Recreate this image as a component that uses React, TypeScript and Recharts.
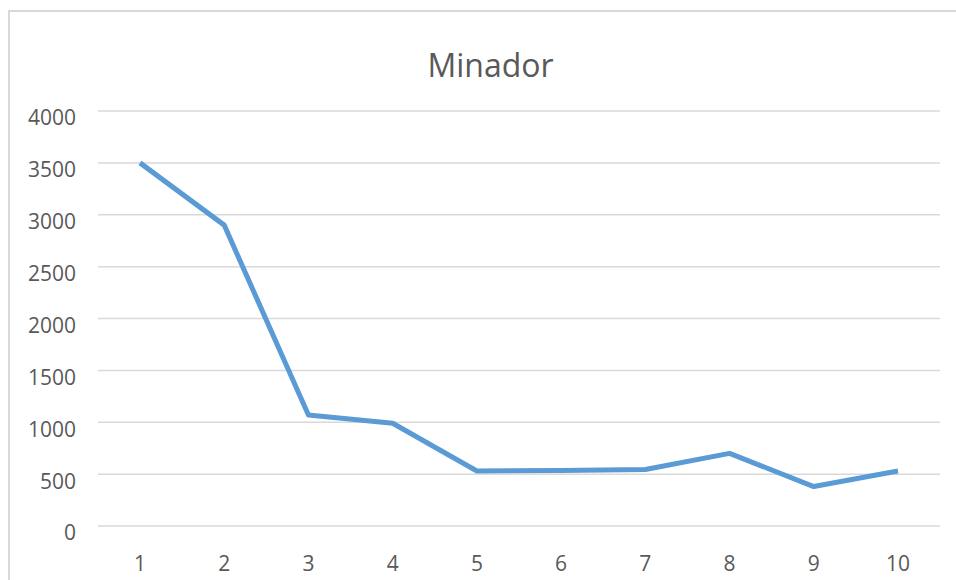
import { LineChart, Line, XAxis, YAxis, CartesianGrid } from 'recharts'

const categories = ['1', '2', '3', '4', '5', '6', '7', '8', '9', '10']
const minadorValues = [3500, 2900, 1070, 990, 530, 535, 545, 700, 380, 530]
const yTicks = [0, 500, 1000, 1500, 2000, 2500, 3000, 3500, 4000]

const data = categories.map((label, i) => ({ label, value: minadorValues[i] }))

const tickStyle = { fill: '#595959', fontSize: 21, fontFamily: '"Open Sans", sans-serif' }

// Excel puts the value labels a little below their gridline
const YTick = ({ x, y, payload }: any) => (
  <text x={x} y={y + 7} dy="0.355em" textAnchor="end" {...tickStyle}>
    {payload.value}
  </text>
)

export default function App() {
  return (
    <div
      style={{
        position: 'absolute',
        left: 0,
        top: 0,
        width: 956,
        height: 580,
        overflow: 'hidden',
        background: '#fff',
      }}
    >
      {/* chart frame, cut off at the right and bottom edges */}
      <div
        style={{
          position: 'absolute',
          left: 8,
          top: 10,
          width: 980,
          height: 620,
          border: '2px solid #D9D9D9',
        }}
      />
      <div
        style={{
          position: 'absolute',
          left: 0,
          width: 981,
          top: 43,
          textAlign: 'center',
          fontFamily: '"Open Sans", sans-serif',
          fontSize: 32,
          color: '#595959',
        }}
      >
        Minador
      </div>
      <div style={{ position: 'absolute', left: 0, top: 0 }}>
        <LineChart
          width={956}
          height={580}
          data={data}
          margin={{ top: 111, right: 16, bottom: 14, left: 10 }}
        >
          <CartesianGrid vertical={false} stroke="#D9D9D9" strokeWidth={1.5} />
          <XAxis
            dataKey="label"
            axisLine={false}
            tickLine={false}
            tickSize={0}
            tickMargin={30}
            height={40}
            padding={{ left: 42, right: 42 }}
            tick={tickStyle}
            interval={0}
          />
          <YAxis
            domain={[0, 4000]}
            ticks={yTicks}
            axisLine={false}
            tickLine={false}
            tickSize={0}
            tickMargin={22}
            width={88}
            tick={<YTick />}
            interval={0}
          />
          <Line
            type="linear"
            dataKey="value"
            stroke="#5B9BD5"
            strokeWidth={5}
            strokeLinejoin="round"
            dot={false}
            activeDot={false}
            isAnimationActive={false}
          />
        </LineChart>
      </div>
    </div>
  )
}
